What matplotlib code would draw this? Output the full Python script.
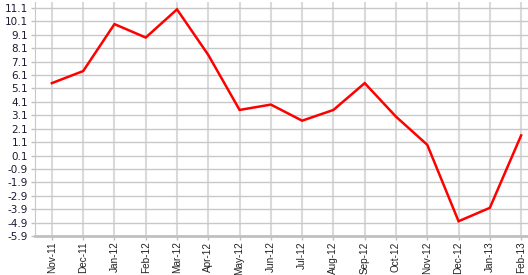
import numpy as np
import matplotlib.pyplot as plt

# Chart data
months = ["Nov-11", "Dec-11", "Jan-12", "Feb-12", "Mar-12", "Apr-12", "May-12", "Jun-12",
          "Jul-12", "Aug-12", "Sep-12", "Oct-12", "Nov-12", "Dec-12", "Jan-13", "Feb-13"]
values = [5.5, 6.4, 9.9, 8.9, 11.0, 7.6, 3.5, 3.9, 2.7, 3.5, 5.5, 3.0, 0.9, -4.8, -3.8, 1.6]
y_ticks = np.round(np.arange(-5.9, 11.2, 1.0), 1)

W, H = 528, 275
fig = plt.figure(figsize=(W / 100, H / 100), dpi=100)
ax = fig.add_axes([35 / W, (H - 236) / H, (W - 35) / W, (236 - 2) / H])

x = np.arange(len(months))
ax.plot(x, values, color="#ff0000", linewidth=1.8, solid_joinstyle="miter")

ax.set_xlim(-0.54, len(months) - 1 + 0.22)
ax.set_ylim(-5.9, 11.55)

ax.set_yticks(y_ticks)
ax.set_yticklabels([f"{v:.1f}" for v in y_ticks], fontsize=7.5, color="#1a1a33")
ax.set_xticks(x)
ax.set_xticklabels(months, rotation=90, fontsize=7.2, color="#222222",
                   family="Liberation Sans")

ax.grid(axis="y", color="#c8c8c8", linewidth=1)
ax.grid(axis="x", color="#dadada", linewidth=1.5)
ax.set_axisbelow(True)

for side in ("top", "right"):
    ax.spines[side].set_visible(False)
ax.spines["left"].set_color("#c8c8c8")
ax.spines["bottom"].set_color("#c0c0c0")
ax.spines["bottom"].set_linewidth(2)
ax.tick_params(axis="y", length=3, width=1, color="#c0c0c0", pad=2)
ax.tick_params(axis="x", length=3, width=1, color="#c0c0c0", pad=1)

fig.savefig("out.png", dpi=100)
